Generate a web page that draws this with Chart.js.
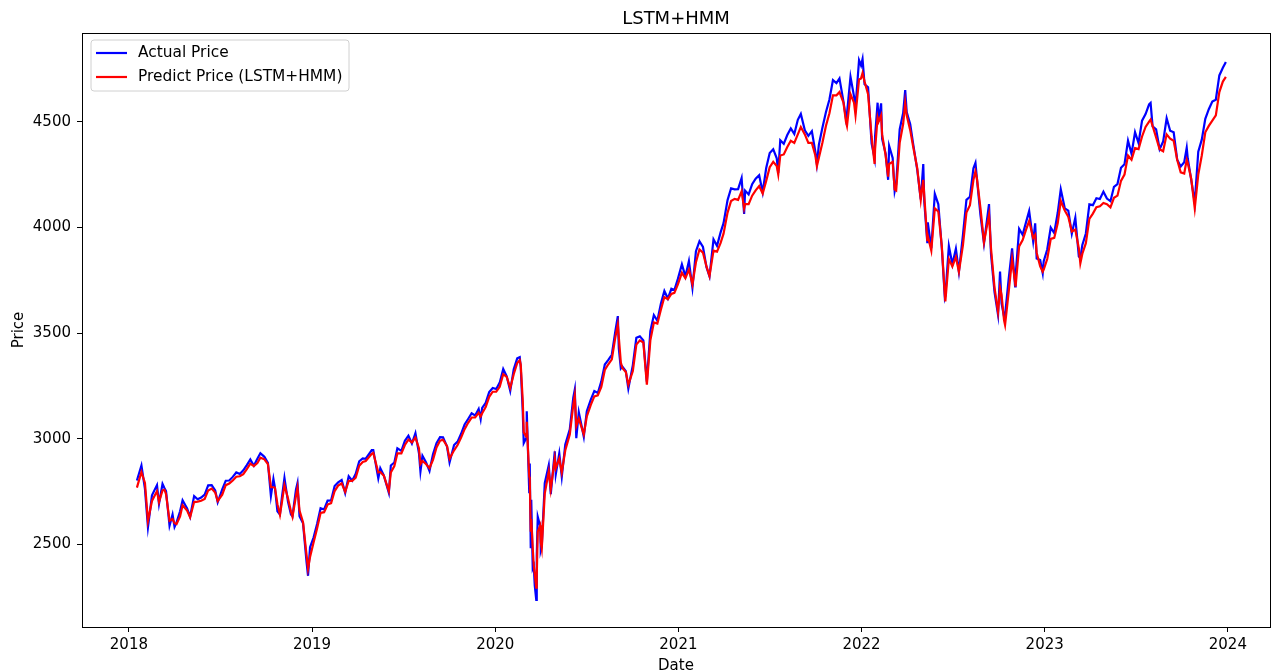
<!DOCTYPE html>
<html>
<head>
<meta charset="utf-8">
<title>LSTM+HMM</title>
<script src="https://cdn.jsdelivr.net/npm/chart.js@4.4.0/dist/chart.umd.min.js"></script>
<style>
  html, body { margin: 0; padding: 0; background: #fff; }
  #wrap { width: 1276px; height: 672px; }
</style>
</head>
<body>
<div id="wrap"><canvas id="chart" width="1276" height="672"></canvas></div>
<script>
// sample dates (weekly-ish, plus a few extra days around big swings)
const dates = [
  // 2018
  "2018-01-17","2018-01-26","2018-02-02","2018-02-08","2018-02-16","2018-02-26","2018-03-02","2018-03-09","2018-03-13","2018-03-16",
  "2018-03-23","2018-03-29","2018-04-02","2018-04-06","2018-04-13","2018-04-18","2018-04-27","2018-05-03","2018-05-11","2018-05-18",
  "2018-05-25","2018-06-01","2018-06-08","2018-06-15","2018-06-22","2018-06-27","2018-07-06","2018-07-13","2018-07-20","2018-07-27",
  "2018-08-03","2018-08-10","2018-08-17","2018-08-24","2018-08-31","2018-09-07","2018-09-14","2018-09-20","2018-09-28","2018-10-05",
  "2018-10-11","2018-10-16","2018-10-19","2018-10-24","2018-10-29","2018-11-02","2018-11-07","2018-11-14","2018-11-20","2018-11-23",
  "2018-11-30","2018-12-03","2018-12-07","2018-12-14","2018-12-21","2018-12-24","2018-12-28",
  // 2019
  "2019-01-04","2019-01-11","2019-01-18","2019-01-25","2019-02-01","2019-02-08","2019-02-15","2019-02-22","2019-03-01","2019-03-08",
  "2019-03-15","2019-03-22","2019-03-29","2019-04-05","2019-04-12","2019-04-18","2019-04-30","2019-05-03","2019-05-13","2019-05-17",
  "2019-05-24","2019-06-03","2019-06-07","2019-06-14","2019-06-20","2019-06-28","2019-07-05","2019-07-12","2019-07-19","2019-07-26",
  "2019-08-02","2019-08-05","2019-08-09","2019-08-16","2019-08-23","2019-08-30","2019-09-06","2019-09-13","2019-09-19","2019-09-27",
  "2019-10-02","2019-10-11","2019-10-18","2019-10-25","2019-11-01","2019-11-08","2019-11-15","2019-11-22","2019-11-29","2019-12-03",
  "2019-12-06","2019-12-13","2019-12-20","2019-12-27",
  // 2020
  "2020-01-03","2020-01-10","2020-01-17","2020-01-24","2020-01-31","2020-02-07","2020-02-14","2020-02-19","2020-02-21","2020-02-25",
  "2020-02-27","2020-03-03","2020-03-04","2020-03-09","2020-03-10","2020-03-12","2020-03-13","2020-03-16","2020-03-18","2020-03-20",
  "2020-03-23","2020-03-24","2020-03-26","2020-03-31","2020-04-01","2020-04-03","2020-04-09","2020-04-17","2020-04-21","2020-04-29",
  "2020-05-01","2020-05-08","2020-05-13","2020-05-20","2020-05-29","2020-06-05","2020-06-08","2020-06-11","2020-06-16","2020-06-26",
  "2020-07-02","2020-07-10","2020-07-17","2020-07-24","2020-07-31","2020-08-07","2020-08-14","2020-08-21","2020-08-28","2020-09-02",
  "2020-09-04","2020-09-08","2020-09-11","2020-09-18","2020-09-23","2020-10-02","2020-10-09","2020-10-16","2020-10-23","2020-10-30",
  "2020-11-06","2020-11-13","2020-11-20","2020-11-27","2020-12-04","2020-12-11","2020-12-18","2020-12-24","2020-12-31",
  // 2021
  "2021-01-08","2021-01-15","2021-01-22","2021-01-29","2021-02-05","2021-02-12","2021-02-19","2021-02-26","2021-03-04","2021-03-12",
  "2021-03-19","2021-03-26","2021-04-01","2021-04-09","2021-04-16","2021-04-23","2021-04-30","2021-05-07","2021-05-12","2021-05-14",
  "2021-05-21","2021-05-28","2021-06-04","2021-06-11","2021-06-18","2021-06-25","2021-07-02","2021-07-09","2021-07-16","2021-07-19",
  "2021-07-23","2021-07-30","2021-08-06","2021-08-13","2021-08-20","2021-08-27","2021-09-02","2021-09-10","2021-09-17","2021-09-24",
  "2021-10-01","2021-10-04","2021-10-08","2021-10-15","2021-10-22","2021-10-29","2021-11-05","2021-11-12","2021-11-18","2021-11-26",
  "2021-12-01","2021-12-03","2021-12-10","2021-12-17","2021-12-20","2021-12-27","2021-12-31",
  // 2022
  "2022-01-03","2022-01-07","2022-01-14","2022-01-21","2022-01-27","2022-01-28","2022-02-02","2022-02-04","2022-02-09","2022-02-11",
  "2022-02-18","2022-02-23","2022-02-25","2022-03-04","2022-03-08","2022-03-11","2022-03-18","2022-03-25","2022-03-29","2022-04-01",
  "2022-04-08","2022-04-14","2022-04-22","2022-04-29","2022-05-04","2022-05-06","2022-05-12","2022-05-13","2022-05-20","2022-05-27",
  "2022-06-03","2022-06-10","2022-06-16","2022-06-17","2022-06-24","2022-07-01","2022-07-08","2022-07-14","2022-07-22","2022-07-29",
  "2022-08-05","2022-08-12","2022-08-16","2022-08-19","2022-08-26","2022-09-02","2022-09-12","2022-09-16","2022-09-23","2022-09-30",
  "2022-10-04","2022-10-07","2022-10-12","2022-10-14","2022-10-21","2022-10-28","2022-11-03","2022-11-04","2022-11-11","2022-11-18",
  "2022-11-25","2022-12-01","2022-12-09","2022-12-13","2022-12-16","2022-12-23","2022-12-28","2022-12-30",
  // 2023
  "2023-01-06","2023-01-13","2023-01-20","2023-01-27","2023-02-02","2023-02-10","2023-02-17","2023-02-24","2023-03-03","2023-03-10",
  "2023-03-13","2023-03-17","2023-03-24","2023-03-31","2023-04-07","2023-04-14","2023-04-21","2023-04-28","2023-05-05","2023-05-12",
  "2023-05-19","2023-05-26","2023-06-02","2023-06-09","2023-06-16","2023-06-23","2023-06-30","2023-07-07","2023-07-14","2023-07-21",
  "2023-07-28","2023-07-31","2023-08-04","2023-08-11","2023-08-18","2023-08-25","2023-09-01","2023-09-08","2023-09-15","2023-09-22",
  "2023-09-29","2023-10-06","2023-10-11","2023-10-13","2023-10-20","2023-10-27","2023-11-03","2023-11-10","2023-11-17","2023-11-24",
  "2023-12-01","2023-12-08","2023-12-15","2023-12-22","2023-12-28"
];

const actualPrice = [
  // 2018
  2802,2873,2762,2581,2732,2780,2691,2786,2765,2752,
  2588,2641,2582,2604,2656,2708,2670,2630,2728,2713,
  2721,2735,2779,2780,2755,2699,2760,2801,2802,2819,
  2840,2833,2850,2875,2902,2872,2905,2931,2914,2886,
  2729,2809,2768,2656,2641,2723,2814,2702,2641,2633,
  2760,2790,2633,2600,2417,2351,2486,
  // 2019
  2532,2596,2671,2665,2707,2708,2776,2793,2804,2743,
  2822,2801,2834,2893,2907,2905,2946,2946,2812,2860,
  2826,2744,2873,2887,2954,2942,2990,3014,2977,3026,
  2932,2845,2919,2889,2847,2926,2979,3007,3006,2962,
  2888,2970,2986,3023,3067,3093,3120,3110,3141,3093,
  3146,3169,3221,3240,
  // 2020
  3235,3265,3330,3295,3226,3328,3380,3386,3338,3128,
  2979,3003,3130,2747,2882,2481,2711,2386,2398,2305,
  2237,2447,2630,2585,2471,2489,2790,2875,2737,2940,
  2831,2930,2820,2972,3044,3194,3232,3002,3125,3009,
  3130,3185,3225,3216,3271,3351,3373,3397,3508,3580,
  3427,3332,3341,3319,3237,3348,3477,3484,3465,3270,
  3509,3585,3558,3638,3699,3663,3709,3703,3756,
  // 2021
  3825,3768,3841,3714,3887,3934,3907,3811,3768,3943,
  3913,3975,4020,4129,4185,4180,4181,4233,4063,4174,
  4156,4204,4230,4247,4166,4281,4352,4370,4327,4258,
  4412,4395,4437,4468,4442,4509,4537,4459,4433,4455,
  4357,4300,4391,4471,4545,4605,4697,4683,4705,4595,
  4513,4538,4712,4620,4568,4791,4766,
  // 2022
  4797,4677,4663,4398,4326,4432,4590,4501,4587,4419,
  4349,4225,4385,4329,4171,4204,4463,4543,4650,4546,
  4488,4393,4272,4132,4300,4123,3930,4024,3901,4158,
  4109,3901,3667,3675,3912,3825,3899,3790,3962,4130,
  4145,4280,4305,4228,4058,3924,4110,3873,3693,3586,
  3791,3640,3577,3583,3752,3901,3720,3771,3993,3965,
  4026,4077,3934,4019,3852,3845,3783,3840,
  // 2023
  3895,3999,3973,4070,4180,4090,4079,3970,4046,3862,
  3855,3917,3971,4109,4105,4138,4134,4169,4136,4124,
  4192,4205,4282,4299,4410,4348,4450,4399,4505,4536,
  4582,4589,4478,4464,4370,4406,4516,4457,4450,4320,
  4288,4308,4377,4327,4224,4117,4358,4415,4514,4559,
  4595,4604,4719,4755,4783
];

const predictPrice = [
  // 2018
  2768,2842,2790,2610,2705,2752,2700,2755,2758,2738,
  2612,2620,2600,2596,2632,2685,2660,2628,2700,2702,
  2706,2715,2755,2764,2745,2705,2735,2780,2788,2802,
  2820,2822,2832,2856,2882,2870,2884,2910,2902,2880,
  2770,2770,2768,2690,2640,2700,2780,2718,2655,2630,
  2730,2768,2660,2605,2450,2385,2440,
  // 2019
  2508,2575,2648,2652,2688,2695,2752,2778,2788,2748,
  2800,2800,2815,2872,2890,2894,2928,2932,2840,2842,
  2825,2752,2840,2870,2930,2930,2970,2995,2982,3005,
  2955,2880,2895,2880,2860,2900,2958,2990,2995,2965,
  2905,2945,2970,3005,3045,3075,3100,3100,3122,3105,
  3120,3150,3198,3222,
  // 2020
  3222,3245,3305,3292,3240,3305,3358,3372,3350,3180,
  3030,3010,3080,2820,2810,2560,2620,2480,2400,2360,
  2295,2350,2560,2590,2510,2480,2740,2845,2760,2905,
  2860,2905,2840,2945,3020,3160,3205,3060,3095,3020,
  3105,3160,3200,3205,3245,3325,3352,3375,3480,3540,
  3480,3360,3335,3315,3255,3320,3445,3465,3455,3255,
  3465,3550,3545,3610,3670,3660,3685,3690,3730,
  // 2021
  3785,3760,3800,3730,3835,3895,3880,3815,3770,3890,
  3885,3925,3970,4070,4125,4135,4130,4170,4090,4110,
  4110,4150,4175,4195,4160,4220,4285,4310,4290,4250,
  4340,4345,4380,4410,4400,4440,4475,4440,4400,4400,
  4340,4290,4330,4400,4480,4540,4625,4625,4640,4590,
  4500,4480,4630,4590,4530,4700,4705,
  // 2022
  4730,4690,4630,4430,4300,4370,4520,4500,4530,4440,
  4340,4240,4300,4310,4180,4175,4400,4490,4590,4530,
  4460,4380,4280,4130,4225,4150,3940,3960,3890,4090,
  4075,3910,3680,3650,3850,3815,3860,3790,3915,4070,
  4105,4225,4265,4230,4090,3930,4060,3900,3715,3600,
  3715,3680,3560,3538,3690,3850,3740,3720,3910,3940,
  3990,4030,3950,3965,3880,3815,3790,3800,
  // 2023
  3850,3945,3950,4020,4125,4080,4050,3980,3990,3900,
  3830,3875,3925,4040,4065,4095,4100,4115,4110,4095,
  4140,4150,4220,4250,4340,4320,4375,4370,4430,4475,
  4500,4510,4480,4425,4370,4360,4440,4420,4410,4320,
  4260,4255,4320,4305,4230,4090,4250,4340,4450,4480,
  4505,4530,4640,4690,4712
];

const yearTicks = [2018, 2019, 2020, 2021, 2022, 2023, 2024];
const priceTicks = [2500, 3000, 3500, 4000, 4500];

// date string -> fractional year, so the x axis can be a plain linear scale
function toYear(s) {
  const d = new Date(s + "T00:00:00Z");
  const y = d.getUTCFullYear();
  const start = Date.UTC(y, 0, 1), end = Date.UTC(y + 1, 0, 1);
  return y + (d.getTime() - start) / (end - start);
}

const actualPts = dates.map((s, i) => ({ x: toYear(s), y: actualPrice[i] }));
const predictPts = dates.map((s, i) => ({ x: toYear(s), y: predictPrice[i] }));

Chart.defaults.font.family = "'DejaVu Sans', sans-serif";
Chart.defaults.color = "#000";

// matplotlib-like box around the axes, title centred on the axes, legend upper left
const framePlugin = {
  id: "frame",
  afterDraw(chart) {
    const { ctx, chartArea: a } = chart;
    ctx.save();
    ctx.strokeStyle = "#000";
    ctx.lineWidth = 1;
    ctx.strokeRect(Math.round(a.left) + 0.5, Math.round(a.top) + 0.5,
                   Math.round(a.right - a.left), Math.round(a.bottom - a.top));

    // title
    ctx.fillStyle = "#000";
    ctx.font = "18px 'DejaVu Sans'";
    ctx.textAlign = "center";
    ctx.textBaseline = "alphabetic";
    ctx.fillText("LSTM+HMM", (a.left + a.right) / 2, 24);

    // legend
    const bx = 91, by = 40, bw = 258, bh = 51, r = 3;
    ctx.beginPath();
    ctx.moveTo(bx + r, by);
    ctx.arcTo(bx + bw, by, bx + bw, by + bh, r);
    ctx.arcTo(bx + bw, by + bh, bx, by + bh, r);
    ctx.arcTo(bx, by + bh, bx, by, r);
    ctx.arcTo(bx, by, bx + bw, by, r);
    ctx.closePath();
    ctx.fillStyle = "rgba(255,255,255,0.8)";
    ctx.fill();
    ctx.strokeStyle = "#d0d0d0";
    ctx.stroke();

    const items = [
      { text: "Actual Price", color: "#0000ff", y: 53 },
      { text: "Predict Price (LSTM+HMM)", color: "#ff0000", y: 77 }
    ];
    ctx.font = "15.4px 'DejaVu Sans'";
    ctx.textAlign = "left";
    ctx.textBaseline = "middle";
    items.forEach(it => {
      ctx.strokeStyle = it.color;
      ctx.lineWidth = 2.2;
      ctx.beginPath();
      ctx.moveTo(96, it.y);
      ctx.lineTo(127, it.y);
      ctx.stroke();
      ctx.fillStyle = "#000";
      ctx.fillText(it.text, 138, it.y);
    });
    ctx.restore();
  }
};

new Chart(document.getElementById("chart"), {
  type: "line",
  data: {
    datasets: [
      { label: "Actual Price", data: actualPts, borderColor: "#0000ff", borderWidth: 2.2,
        pointRadius: 0, tension: 0, order: 1 },
      { label: "Predict Price (LSTM+HMM)", data: predictPts, borderColor: "#ff0000", borderWidth: 2.2,
        pointRadius: 0, tension: 0, order: 0 }
    ]
  },
  options: {
    responsive: false,
    devicePixelRatio: 1,
    animation: false,
    parsing: false,
    layout: { padding: { top: 33, left: 0, right: 6, bottom: 0 } },
    plugins: {
      legend: { display: false },
      tooltip: { enabled: false },
      title: { display: false }
    },
    scales: {
      x: {
        type: "linear",
        min: 2017.744,
        max: 2024.23,
        afterFit: s => { s.height = 45; },
        afterBuildTicks: s => { s.ticks = yearTicks.map(v => ({ value: v })); },
        ticks: { font: { size: 15 }, color: "#000", padding: 4, maxRotation: 0,
                 callback: v => String(v) },
        grid: { drawOnChartArea: false, drawTicks: true, tickLength: 5, color: "#000" },
        border: { color: "#000", width: 1 },
        title: { display: true, text: "Date", font: { size: 15 }, color: "#000",
                 padding: { top: 0, bottom: -3 } }
      },
      y: {
        min: 2108.6,
        max: 4919.8,
        afterFit: s => { s.width = 82; },
        afterBuildTicks: s => { s.ticks = priceTicks.map(v => ({ value: v })); },
        ticks: { font: { size: 15 }, color: "#000", padding: 6,
                 callback: v => String(v) },
        grid: { drawOnChartArea: false, drawTicks: true, tickLength: 5, color: "#000" },
        border: { color: "#000", width: 1 },
        title: { display: true, text: "Price", font: { size: 15 }, color: "#000",
                 padding: { top: 10, bottom: 0 } }
      }
    }
  },
  plugins: [framePlugin]
});
</script>
</body>
</html>
